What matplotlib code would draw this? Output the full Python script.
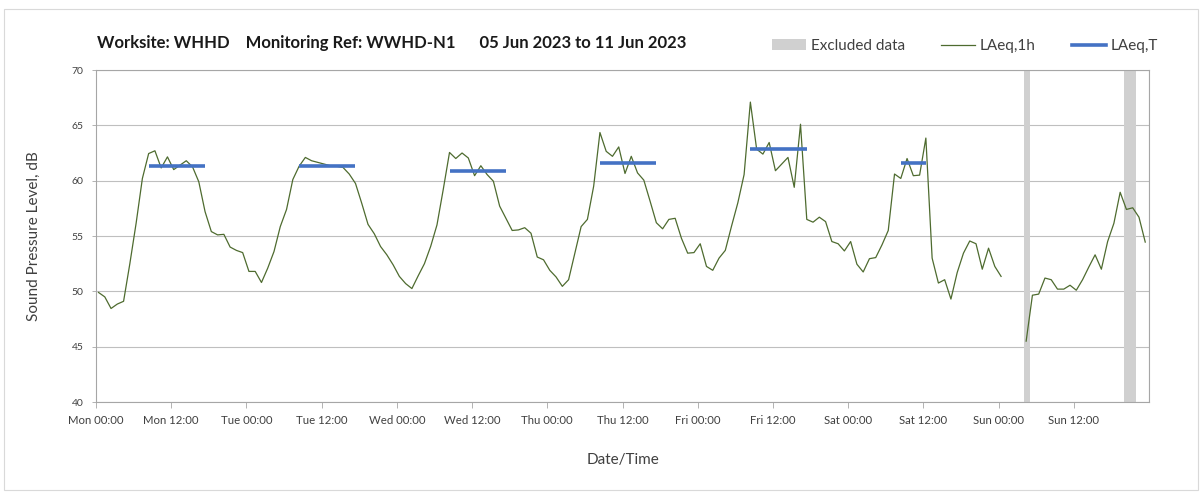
import numpy as np
import matplotlib
matplotlib.use("Agg")
import matplotlib.pyplot as plt
from matplotlib.patches import Rectangle, Patch
from matplotlib.lines import Line2D

plt.rcParams['font.family'] = ['Lato', 'DejaVu Sans']

# Hourly LAeq,1h values (dB), Mon 00:00 .. Sun 23:00 (None = no data)
laeq_1h = [
    # Mon
    49.9, 49.5, 48.45, 48.85, 49.1, 52.5, 56.15, 60.2, 62.45, 62.7, 61.15, 62.15,
    61.0, 61.4, 61.8, 61.25, 59.9, 57.2, 55.4, 55.1, 55.15, 54.0, 53.7, 53.5,
    # Tue
    51.8, 51.8, 50.8, 52.1, 53.6, 55.85, 57.4, 60.1, 61.3, 62.1, 61.8, 61.65,
    61.5, 61.35, 61.3, 61.2, 60.6, 59.75, 57.95, 56.05, 55.2, 54.05, 53.3, 52.4,
    # Wed
    51.35, 50.7, 50.25, 51.4, 52.5, 54.07, 56.0, 59.2, 62.55, 62.0, 62.5, 62.05,
    60.45, 61.35, 60.55, 59.95, 57.7, 56.6, 55.5, 55.55, 55.75, 55.25, 53.1, 52.85,
    # Thu
    51.9, 51.3, 50.45, 51.05, 53.45, 55.85, 56.5, 59.5, 64.35, 62.65, 62.2, 63.05,
    60.65, 62.2, 60.7, 60.05, 58.15, 56.2, 55.65, 56.5, 56.6, 54.8, 53.45, 53.5,
    # Fri
    54.3, 52.25, 51.9, 53.0, 53.7, 55.9, 58.0, 60.55, 67.1, 62.85, 62.4, 63.45,
    60.9, 61.5, 62.1, 59.4, 65.1, 56.5, 56.25, 56.7, 56.3, 54.5, 54.3, 53.65,
    # Sat
    54.5, 52.45, 51.75, 52.95, 53.05, 54.2, 55.5, 60.6, 60.2, 62.0, 60.45, 60.5,
    63.85, 53.0, 50.75, 51.05, 49.3, 51.7, 53.45, 54.55, 54.3, 52.0, 53.9, 52.25,
    # Sun
    51.35, None, None, None, 45.5, 49.65, 49.75, 51.2, 51.05, 50.2, 50.2, 50.55,
    50.1, 51.05, 52.2, 53.3, 52.0, 54.5, 56.15, 58.95, 57.4, 57.55, 56.7, 54.45,
]

# LAeq,T daytime periods (start hour, end hour, level dB)
period_start = [8, 32, 56, 80, 104, 128]
period_end = [17, 41, 65, 89, 113, 132]
laeq_t = [61.3, 61.3, 60.9, 61.6, 62.9, 61.6]

# Excluded data windows (hours from Mon 00:00)
excl_start = [148, 164]
excl_end = [149, 166]

tick_labels = ['Mon 00:00', 'Mon 12:00', 'Tue 00:00', 'Tue 12:00', 'Wed 00:00',
               'Wed 12:00', 'Thu 00:00', 'Thu 12:00', 'Fri 00:00', 'Fri 12:00',
               'Sat 00:00', 'Sat 12:00', 'Sun 00:00', 'Sun 12:00']

offset = 0.4
vals = np.array([np.nan if v is None else v for v in laeq_1h], dtype=float)
hours = np.arange(len(vals)) + offset

W, H = 1203, 493
fig = plt.figure(figsize=(W / 100, H / 100), dpi=100)
fig.patches.append(Rectangle((4 / W, 3 / H), 1194 / W, 481 / H, transform=fig.transFigure,
                             fill=False, edgecolor='#d9d9d9', linewidth=0.8))

ax = fig.add_axes([96 / W, 1 - 402 / H, (1149 - 96) / W, (402 - 70) / H])

band_color = '#d0d0d0'
for s, e in zip(excl_start, excl_end):
    ax.axvspan(s, e, color=band_color, lw=0, zorder=1)

line_color = '#4e6b2f'
ax.plot(hours, vals, color=line_color, lw=0.9, zorder=3)

blue = '#4472c4'
for s, e, v in zip(period_start, period_end, laeq_t):
    ax.plot([s + offset, e + offset], [v, v], color=blue, lw=2.6, zorder=4,
            solid_capstyle='butt')

ax.set_xlim(0, 168)
ax.set_ylim(40, 70)
ax.set_yticks(np.arange(40, 71, 5))
ax.set_xticks(np.arange(0, 168, 12))
ax.set_xticklabels(tick_labels, fontsize=8.2, color='#404040')
ax.set_xticks(np.arange(0, 169, 24), minor=True)
ax.tick_params(axis='y', labelsize=7.5, colors='#404040', length=3, width=0.6,
               color='#a6a6a6', pad=6)
ax.tick_params(axis='x', which='major', length=4, width=0.6, color='#a6a6a6', pad=5)
ax.tick_params(axis='x', which='minor', length=0)

ax.grid(axis='y', color='#bfbfbf', lw=0.8, zorder=0)
ax.grid(axis='x', which='minor', color='#dadada', lw=0.8, zorder=0)
ax.set_axisbelow(True)
for sp in ax.spines.values():
    sp.set_color('#a6a6a6')
    sp.set_linewidth(0.8)

ax.set_ylabel('Sound Pressure Level, dB', fontsize=11, color='#404040', labelpad=22)
ax.set_xlabel('Date/Time', fontsize=11, color='#404040', labelpad=20)

fig.text(97 / W, 1 - 43 / H,
         'Worksite: WHHD    Monitoring Ref: WWHD-N1      05 Jun 2023 to 11 Jun 2023',
         fontsize=12, fontweight='bold', color='#1a1a1a', ha='left', va='center')

handles = [Patch(facecolor=band_color, edgecolor='none'),
           Line2D([], [], color=line_color, lw=0.9),
           Line2D([], [], color=blue, lw=2.6)]
labels = ['Excluded data', 'LAeq,1h', 'LAeq,T']
fig.legend(handles, labels, ncol=3, loc='center', bbox_to_anchor=(965 / W, 1 - 46 / H),
           frameon=False, fontsize=11, handlelength=2.2, handletextpad=0.3,
           columnspacing=2.4, labelcolor='#404040')

fig.savefig('out.png', dpi=100)
